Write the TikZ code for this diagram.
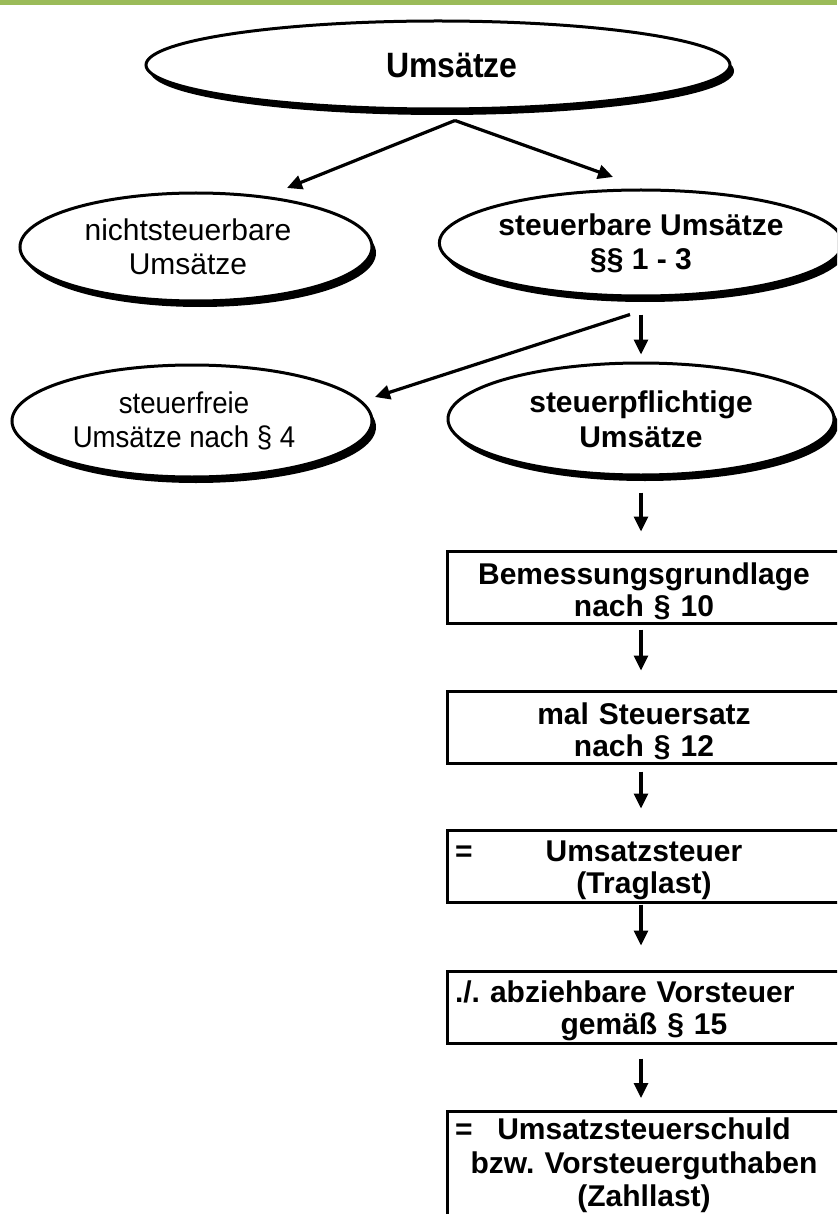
\documentclass[tikz,border=0pt]{standalone}
\usepackage{fontspec}
\setmainfont{Liberation Sans}
\usetikzlibrary{shapes.geometric,arrows.meta,calc,shadows}
\definecolor{topgreen}{HTML}{9BBB59}
\frenchspacing
\begin{document}
\begin{tikzpicture}[x=1pt,y=-1pt,
  ell/.style={ellipse, draw=black, line width=3pt, fill=white, inner sep=0pt, align=center,
    font=\fontsize{30}{34}\selectfont,
    drop shadow={shadow xshift=4pt, shadow yshift=-6pt, fill=black, opacity=1}},
  stepbox/.style={rectangle, draw=black, line width=3pt, fill=white, inner xsep=8pt, inner ysep=0pt,
    minimum width=394pt, minimum height=72pt, text width=378pt, align=center,
    font=\fontsize{30}{32}\selectfont\bfseries},
  arr/.style={line width=3.2pt, -{Triangle[length=15pt,width=14pt]}}]
\useasboundingbox (0,0) rectangle (837,1214);
\clip (0,0) rectangle (837,1214);
\fill[topgreen] (0,0) rectangle (837,5);

\node[ell, minimum width=584pt, minimum height=88pt, font=\fontsize{32}{35}\selectfont\bfseries] (E0) at (438,65) {\hspace*{28pt}\scalebox{1}[1.1]{Umsätze}};
\node[ell, minimum width=352pt, minimum height=108pt] (E1) at (196,247) {nichtsteuerbare\hspace*{16pt}\\Umsätze\hspace*{16pt}};
\node[ell, minimum width=386pt, minimum height=106pt, font=\fontsize{30}{34}\selectfont\bfseries] (E2) at (641,243) {steuerbare Umsätze\\§§ 1 - 3};
\node[ell, minimum width=360pt, minimum height=112pt] (E3) at (192,421) {\scalebox{0.92}[1]{steuerfreie}\hspace*{16pt}\\\scalebox{0.92}[1]{Umsätze nach § 4}\hspace*{16pt}};
\node[ell, minimum width=386pt, minimum height=112pt, font=\fontsize{30}{35}\selectfont\bfseries] (E4) at (641,419) {steuerpflichtige\\Umsätze};

\node[stepbox] (B1) at (644,587) {\rule{0pt}{30pt}Bemessungsgrundlage\\nach § 10};
\node[stepbox] (B2) at (644,727) {\rule{0pt}{30pt}mal Steuersatz\\nach § 12};
\node[stepbox] (B3) at (644,866) {\rule{0pt}{30pt}\hbox to 378pt{\rlap{=}\hfil Umsatzsteuer\hfil}\\(Traglast)};
\node[stepbox] (B4) at (644,1007) {\rule{0pt}{30pt}\hbox to 378pt{./. abziehbare Vorsteuer\hfil}\\gemäß § 15};
\node[stepbox, anchor=north, minimum height=108pt, font=\fontsize{30}{33.5}\selectfont\bfseries] (B5) at (644,1110) {\hbox to 378pt{\rlap{=}\hfil Umsatzsteuerschuld\hfil}\\bzw. Vorsteuerguthaben\\(Zahllast)};

\coordinate (apex) at ($(E0.south)+(17,10)$);
\draw[arr] (apex) -- ($(E1.center)+(91,-59)$);
\draw[arr] (apex) -- ($(E2.center)+(-28,-66)$);
\draw[arr, shorten <=17pt, shorten >=7pt] (E2.south) -- (E4.north);
\draw[arr] ($(E2.south)+(-11,17)$) -- ($(E3.center)+(183,-24)$);
\draw[arr, shorten <=16pt, shorten >=18pt] (E4.south) -- ([xshift=-3pt]B1.north);
\draw[arr, shorten <=5pt, shorten >=19pt] ([xshift=-3pt]B1.south) -- ([xshift=-3pt]B2.north);
\draw[arr, shorten <=7pt, shorten >=20pt] ([xshift=-3pt]B2.south) -- ([xshift=-3pt]B3.north);
\draw[arr, shorten <=1pt, shorten >=24pt] ([xshift=-3pt]B3.south) -- ([xshift=-3pt]B4.north);
\draw[arr, shorten <=14pt, shorten >=12pt] ([xshift=-3pt]B4.south) -- ([xshift=-3pt]B5.north);
\end{tikzpicture}
\end{document}
